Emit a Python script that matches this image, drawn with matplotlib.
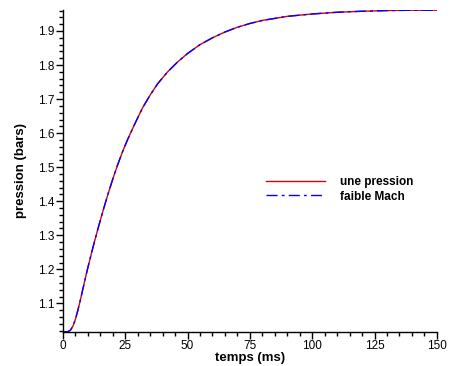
import matplotlib
matplotlib.use("Agg")
import matplotlib.pyplot as plt
from matplotlib.ticker import MultipleLocator

plt.rcParams['font.family'] = ['Liberation Sans', 'DejaVu Sans']

# temps (ms) et pression (bars)
temps = [0, 2, 3, 4, 5, 6, 7, 8, 9, 10, 12, 14, 16, 18, 20, 22, 24, 26, 28, 30,
         32, 35, 38, 42, 46, 50, 55, 60, 65, 70, 75, 80, 90, 100, 110, 120,
         130, 140, 150]
p_une_pression = [1.016, 1.017, 1.021, 1.033, 1.053, 1.080, 1.110, 1.142, 1.174,
                  1.205, 1.263, 1.318, 1.370, 1.419, 1.465, 1.508, 1.547, 1.582,
                  1.614, 1.645, 1.675, 1.712, 1.745, 1.780, 1.809, 1.834, 1.860,
                  1.880, 1.897, 1.911, 1.922, 1.931, 1.943, 1.950, 1.955, 1.958,
                  1.960, 1.961, 1.961]
p_faible_mach = list(p_une_pression)

fig = plt.figure(figsize=(4.56, 3.66), dpi=100)
ax = fig.add_axes([0.138, 0.093, 0.82, 0.88])

ax.plot(temps, p_une_pression, color='#e00000', lw=1.0, label='une pression')
ax.plot(temps, p_faible_mach, color='#0000ff', lw=1.0, ls=(0, (8, 3, 2, 3)),
        label='faible Mach')

ax.set_xlim(0, 150)
ax.set_ylim(1.016, 1.962)
ax.xaxis.set_major_locator(MultipleLocator(25))
ax.xaxis.set_minor_locator(MultipleLocator(5))
ax.yaxis.set_minor_locator(MultipleLocator(0.02))
ax.set_yticks([1.1, 1.2, 1.3, 1.4, 1.5, 1.6, 1.7, 1.8, 1.9])

for s in ['top', 'right']:
    ax.spines[s].set_visible(False)
ax.spines['left'].set_linewidth(1.0)
ax.spines['bottom'].set_linewidth(1.0)
ax.tick_params(which='major', direction='out', length=5, width=1, labelsize=8.5, pad=1)
ax.tick_params(which='minor', direction='out', length=3, width=1)

ax.set_xlabel('temps (ms)', fontsize=9.5, fontweight='bold', labelpad=0)
ax.set_ylabel('pression (bars)', fontsize=9.5, fontweight='bold', labelpad=8)

leg = ax.legend(loc='upper left', bbox_to_anchor=(0.53, 0.50), frameon=False,
                prop={'weight': 'bold', 'size': 8.5}, handlelength=5.0,
                handletextpad=1.3, labelspacing=0.25, borderaxespad=0)

plt.savefig('out.png', dpi=100)
